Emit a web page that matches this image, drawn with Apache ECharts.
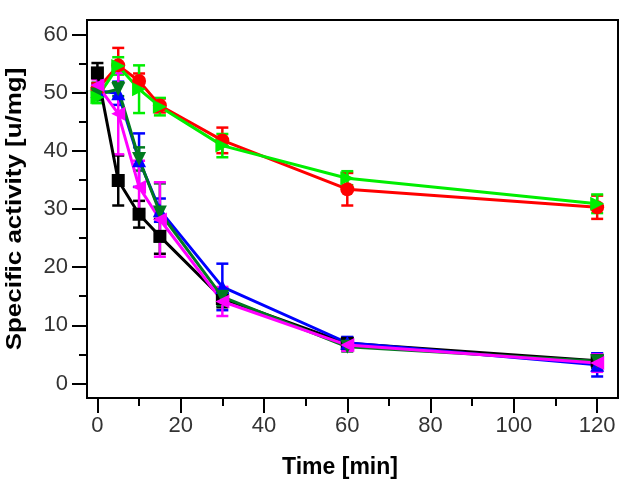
<!DOCTYPE html>
<html>
<head>
<meta charset="utf-8">
<script src="https://cdn.jsdelivr.net/npm/echarts@6/dist/echarts.min.js"></script>
<style>html,body{margin:0;padding:0;background:#fff}#c{width:630px;height:488px}</style>
</head>
<body>
<div id="c"></div>
<script>
var times = [0, 5, 10, 15, 30, 60, 120];
var xTicks = [0, 20, 40, 60, 80, 100, 120];
var xMinor = [10, 30, 50, 70, 90, 110];
var yTicks = [0, 10, 20, 30, 40, 50, 60];
var yMinor = [5, 15, 25, 35, 45, 55];
var xTitle = 'Time [min]';
var yTitle = 'Specific activity [u/mg]';

var blackVals = [53.4, 34.9, 29.1, 25.3, 14.6, 6.9, 3.9];
var blackErr  = [1.7, 4.3, 2.3, 3.0, 1.5, 1.0, 1.2];
var redVals   = [50.6, 54.7, 52.0, 47.8, 41.8, 33.4, 30.3];
var redErr    = [1.0, 3.0, 1.3, 1.2, 2.2, 2.8, 2.0];
var blueVals  = [50.3, 49.9, 38.4, 29.8, 16.6, 7.0, 3.2];
var blueErr   = [1.0, 2.0, 4.6, 2.0, 4.0, 1.0, 2.0];
var dgreenVals= [49.7, 50.6, 38.6, 29.4, 14.9, 6.3, 3.8];
var dgreenErr = [1.0, 1.2, 2.0, 5.0, 1.5, 0.8, 1.0];
var greenVals = [49.2, 54.6, 50.6, 47.6, 40.9, 35.3, 30.9];
var greenErr  = [1.0, 1.5, 4.1, 1.5, 2.0, 1.2, 1.6];
var magVals   = [51.3, 46.4, 33.8, 28.2, 14.1, 6.6, 3.5];
var magErr    = [1.0, 7.0, 4.5, 6.4, 2.5, 1.0, 1.5];

var seriesDefs = [
  {name:'black', vals:blackVals, err:blackErr, color:'#000000', symbol:'rect', rot:0, size:13},
  {name:'red', vals:redVals, err:redErr, color:'#ff0000', symbol:'circle', rot:0, size:14},
  {name:'blue', vals:blueVals, err:blueErr, color:'#0000ff', symbol:'triangle', rot:0, size:14},
  {name:'dgreen', vals:dgreenVals, err:dgreenErr, color:'#007a1f', symbol:'triangle', rot:180, size:14},
  {name:'green', vals:greenVals, err:greenErr, color:'#00ee00', symbol:'triangle', rot:-90, size:14},
  {name:'magenta', vals:magVals, err:magErr, color:'#ff00ff', symbol:'triangle', rot:90, size:14}
];

function errRender(color){
  return function(params, api){
    var x = api.value(0), lo = api.value(1), hi = api.value(2);
    var p1 = api.coord([x, lo]), p2 = api.coord([x, hi]);
    var w = 6;
    var st = {stroke: color, lineWidth: 2.5};
    return {type:'group', children:[
      {type:'line', shape:{x1:p1[0], y1:p1[1], x2:p2[0], y2:p2[1]}, style:st},
      {type:'line', shape:{x1:p1[0]-w, y1:p1[1], x2:p1[0]+w, y2:p1[1]}, style:st},
      {type:'line', shape:{x1:p2[0]-w, y1:p2[1], x2:p2[0]+w, y2:p2[1]}, style:st}
    ]};
  };
}

var series = [];
seriesDefs.forEach(function(d){
  series.push({
    type:'custom', name:d.name+'-err', xAxisIndex:0, yAxisIndex:0,
    renderItem: errRender(d.color),
    encode:{x:0, y:[1,2]},
    data: times.map(function(t,i){ return [t, d.vals[i]-d.err[i], d.vals[i]+d.err[i]]; }),
    silent:true, z:2
  });
  series.push({
    type:'line', name:d.name, xAxisIndex:0, yAxisIndex:0,
    data: times.map(function(t,i){ return [t, d.vals[i]]; }),
    symbol:d.symbol, symbolSize:d.size, symbolRotate:d.rot,
    lineStyle:{color:d.color, width:3},
    itemStyle:{color:d.color, borderWidth:0},
    showSymbol:true, animation:false, z:3
  });
});

var labelFont = {fontFamily:'Liberation Sans, Arial, sans-serif', fontSize:22, color:'#333'};

var option = {
  animation:false,
  grid:{left:87, top:20, right:12, bottom:90, show:true, borderColor:'#000', borderWidth:2,
        backgroundColor:'transparent', outerBoundsMode:'none', containLabel:false},
  xAxis:[
    {type:'value', min:-2.5, max:125, position:'bottom',
     axisLine:{show:true, onZero:false, lineStyle:{color:'#000', width:2}},
     axisTick:{show:true, customValues:xTicks, length:15, lineStyle:{color:'#000', width:2}},
     axisLabel:Object.assign({customValues:xTicks, margin:17}, labelFont),
     splitLine:{show:false}},
    {type:'value', min:-2.5, max:125, position:'bottom', gridIndex:0,
     axisLine:{show:false, onZero:false},
     axisTick:{show:true, customValues:xMinor, length:8, lineStyle:{color:'#000', width:2}},
     axisLabel:{show:false}, splitLine:{show:false}}
  ],
  yAxis:[
    {type:'value', min:-2.5, max:62.5, position:'left',
     axisLine:{show:true, onZero:false, lineStyle:{color:'#000', width:2}},
     axisTick:{show:true, customValues:yTicks, length:15, lineStyle:{color:'#000', width:2}},
     axisLabel:Object.assign({customValues:yTicks, margin:19}, labelFont),
     splitLine:{show:false}},
    {type:'value', min:-2.5, max:62.5, position:'left', gridIndex:0,
     axisLine:{show:false, onZero:false},
     axisTick:{show:true, customValues:yMinor, length:8, lineStyle:{color:'#000', width:2}},
     axisLabel:{show:false}, splitLine:{show:false}}
  ],
  graphic:[
    {type:'text', x:340, y:468, silent:true,
     style:{text:xTitle, font:'bold 23px "Liberation Sans", Arial, sans-serif', fill:'#000',
            align:'center', verticalAlign:'middle', textAlign:'center', textVerticalAlign:'middle'}},
    {type:'text', x:15, y:209, rotation:Math.PI/2, scaleX:1.18, silent:true,
     style:{text:yTitle, font:'bold 22px "Liberation Sans", Arial, sans-serif', fill:'#000',
            align:'center', verticalAlign:'middle', textAlign:'center', textVerticalAlign:'middle'}}
  ],
  series: series
};
var chart = echarts.init(document.getElementById('c'), null, {renderer:'canvas'});
chart.setOption(option);
</script>
</body>
</html>
